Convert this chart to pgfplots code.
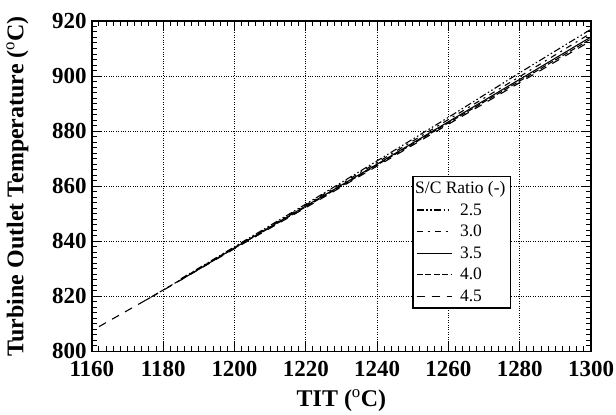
\documentclass[border=0pt]{standalone}
\usepackage{fontspec}
\setmainfont{Liberation Serif}
\usepackage{pgfplots}
\pgfplotsset{compat=1.18}
\begin{document}
\begin{tikzpicture}
\begin{axis}[
  name=ax,
  scale only axis,
  width=500pt, height=331pt,
  xmin=1160, xmax=1300, ymin=800, ymax=920,
  xtick={1160,1180,1200,1220,1240,1260,1280,1300},
  xticklabels={1160,1180,1200,1220,1240,1260,1280,1300},
  ytick={800,820,840,860,880,900,920},
  yticklabels={800,820,840,860,880,900,920},
  minor x tick num=9, minor y tick num=9,
  tick align=inside,
  major tick length=9pt, minor tick length=5pt,
  tick style={black, line width=1pt},
  axis line style={line width=1.5pt},
  xmajorgrids, ymajorgrids,
  grid style={black, dotted, line width=0.6pt},
  tick label style={font=\fontsize{23}{23}\selectfont\bfseries, inner sep=2pt},
  xticklabel style={yshift=-8pt},
  yticklabel style={xshift=-3pt},
  xlabel={TIT ($^{\mathrm{o}}$C)},
  ylabel={Turbine Outlet Temperature ($^{\mathrm{o}}$C)},
  label style={font=\fontsize{24}{24}\selectfont\bfseries},
  xlabel style={at={(axis description cs:0.5,-0.148)}, anchor=center},
  ylabel style={at={(axis description cs:-0.149,0.5)}, anchor=center},
  legend style={at={(0.642,0.532)}, anchor=north west, draw=black, line width=1.5pt,
    font=\fontsize{17.5}{20}\selectfont, row sep=4.5pt, inner sep=3pt,
    /tikz/every odd column/.append style={column sep=6pt}},
  legend cell align=left,
  legend image post style={line width=1.1pt},
  legend image code/.code={\draw[#1] (0pt,0pt) -- (35pt,0pt);},
]
\addlegendimage{empty legend}
\addlegendentry{\hspace*{-45pt}S/C Ratio (-)}
\addplot[black, line width=1.1pt, dash pattern=on 7pt off 2.5pt on 1.5pt off 2.5pt on 1.5pt off 2.5pt] coordinates {
(1185,826.4) (1200,838.0) (1220,853.5) (1240,869.2) (1260,885.0) (1280,901.2) (1300,917.0)};
\addlegendentry{2.5}
\addplot[black, line width=1.1pt, dash pattern=on 6pt off 5pt on 2pt off 5pt] coordinates {
(1185,826.2) (1200,837.8) (1220,853.2) (1240,868.6) (1260,884.2) (1280,899.8) (1300,915.6)};
\addlegendentry{3.0}
\addplot[black, line width=1.1pt] coordinates {
(1185,826.0) (1200,837.6) (1220,852.8) (1240,868.0) (1260,883.4) (1280,898.8) (1300,914.2)};
\addlegendentry{3.5}
\addplot[black, line width=1.1pt, dash pattern=on 6pt off 2.5pt] coordinates {
(1175,818.5) (1200,837.5) (1220,852.5) (1240,867.7) (1260,883.0) (1280,898.2) (1300,913.5)};
\addlegendentry{4.0}
\addplot[black, line width=1.1pt, dash pattern=on 8pt off 7pt] coordinates {
(1162,809.0) (1180,822.2) (1200,837.3) (1220,852.2) (1240,867.3) (1260,882.5) (1280,897.6) (1300,912.8)};
\addlegendentry{4.5}
\end{axis}
\path[use as bounding box] (ax.south west) ++(-92pt,-63pt) rectangle ++(616pt,415pt);
\end{tikzpicture}
\end{document}
